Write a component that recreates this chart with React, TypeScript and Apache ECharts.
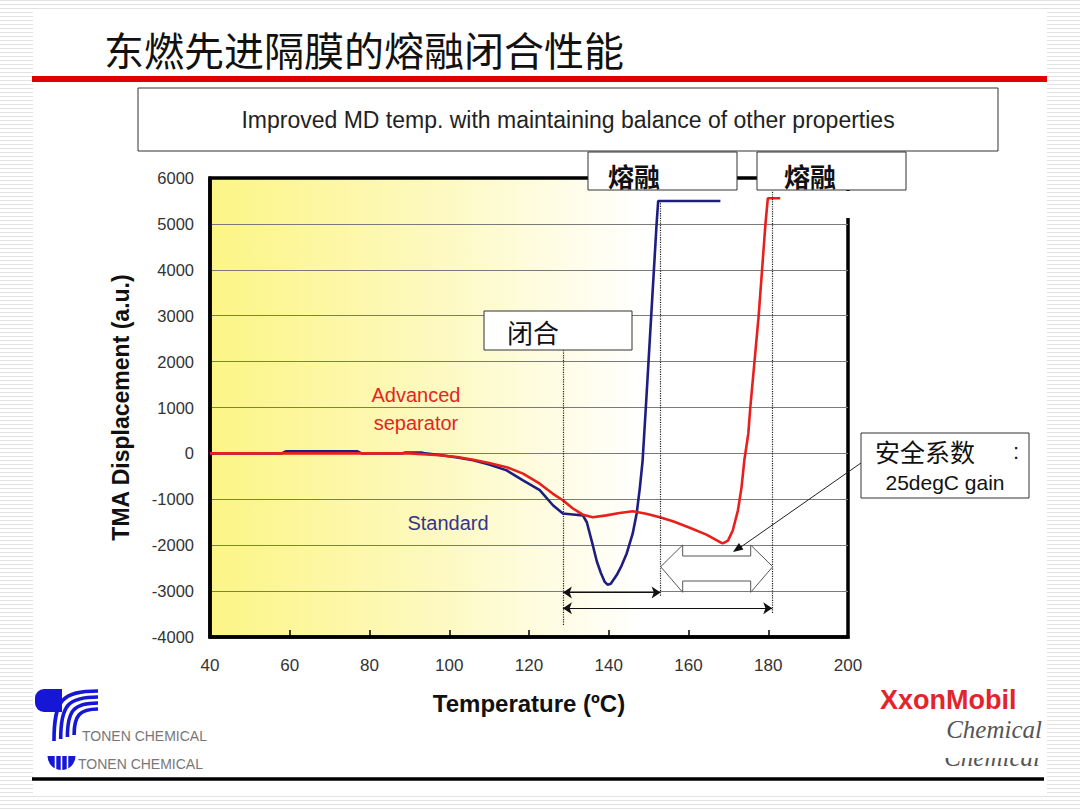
import * as React from "react";
import * as echarts from "echarts";
import { useEffect, useRef } from "react";

// Standard separator (blue curve)
const blueTemp = [40, 58, 59, 77, 78, 88, 89, 93, 94, 98, 102, 106, 110, 114.4, 118.5, 122.7, 126, 128.5, 131, 133.5, 134.5, 136, 137, 138, 139, 139.7, 140.5, 142, 143.2, 144.5, 146, 147, 147.8, 148.5, 149.3, 150.65, 152, 152.4, 160, 168];
const blueDisp = [0, 0, 45, 45, 0, 0, 20, 20, 0, -40, -90, -150, -240, -370, -590, -800, -1130, -1310, -1330, -1350, -1500, -2000, -2350, -2600, -2800, -2860, -2840, -2650, -2450, -2180, -1750, -1310, -750, -150, 1000, 3000, 5000, 5500, 5500, 5500];

// Advanced separator (red curve)
const redTemp = [40, 90, 97.6, 102, 106, 110, 114.4, 118.5, 122.7, 126, 128.5, 131, 133.5, 136, 139.4, 142.7, 146, 149.4, 152.8, 156.1, 160.3, 164.5, 167.8, 168.6, 169.9, 171.1, 172.4, 173.3, 174, 175, 175.5, 177.6, 179.3, 179.9, 183];
const redDisp = [0, 0, -40, -80, -140, -210, -300, -440, -660, -880, -1020, -1200, -1335, -1390, -1350, -1300, -1260, -1315, -1390, -1480, -1620, -1770, -1930, -1960, -1900, -1680, -1240, -740, -150, 430, 1000, 3000, 5000, 5560, 5560];

// dotted guide lines: temperature, top, bottom
const guideTemp = [128.5, 153, 181];
const guideTop = [2250, 5500, 5700];
const guideBottom = [-3740, -3100, -3480];

// span arrows: start temp, end temp, level
const spanStart = [128.5, 128.5];
const spanEnd = [153, 181];
const spanLevel = [-3030, -3375];

const zip = (xs: number[], ys: number[]) => xs.map((x, i) => [x, ys[i]]);

const SANS = "'Liberation Sans', Arial, sans-serif";
const CJK = "'Noto Sans CJK SC', sans-serif";
const SERIF = "'Liberation Serif', serif";
const BLUE_LOGO = "#1616d6";

const txt = (x: number, y: number, text: string, s: any = {}) => ({
  type: "text",
  x,
  y,
  z: 110,
  silent: true,
  style: {
    text,
    fontSize: 20,
    fontFamily: SANS,
    fill: "#111",
    align: s.align || "left",
    textAlign: s.align || "left",
    verticalAlign: "middle",
    textVerticalAlign: "middle",
    ...s,
  },
});

const box = (x: number, y: number, w: number, h: number) => ({
  type: "rect",
  z: 100,
  silent: true,
  shape: { x, y, width: w, height: h },
  style: { fill: "#fff", stroke: "#333", lineWidth: 1 },
});

const App = () => {
  const chartRef = useRef<HTMLDivElement>(null);

  useEffect(() => {
    if (!chartRef.current) return;
    const chart = echarts.init(chartRef.current, null, { renderer: "svg" });

    const stripes = [0, 1, 2, 3].map((i) => ({
      type: "bezierCurve",
      z: 100,
      silent: true,
      shape: {
        x1: 98, y1: 691 + 6 * i,
        cpx1: 62 + 6 * i, cpy1: 691 + 6 * i,
        cpx2: 54 + 6.7 * i, cpy2: 700 + 5 * i,
        x2: 54 + 6.7 * i, y2: 741 - 2 * i,
      },
      style: { stroke: BLUE_LOGO, lineWidth: 3.6, fill: null },
    }));

    const bigArrow = [
      [660.7, 566.7], [682.7, 545], [682.7, 556], [750.7, 556], [750.7, 545],
      [772.7, 566.7], [750.7, 592.3], [750.7, 581], [682.7, 581], [682.7, 592.3],
    ];

    const option = {
      animation: false,
      grid: {
        left: 210,
        right: 232,
        top: 178,
        bottom: 173,
        show: true,
        borderColor: "#000",
        borderWidth: 3.5,
        backgroundColor: new echarts.graphic.LinearGradient(0, 0, 1, 0, [
          { offset: 0, color: "#fcf585" },
          { offset: 0.35, color: "#fdf9bf" },
          { offset: 0.68, color: "#ffffff" },
          { offset: 1, color: "#ffffff" },
        ]),
      },
      xAxis: {
        type: "value",
        min: 40,
        max: 200,
        interval: 20,
        name: "Temperature (ºC)",
        nameLocation: "middle",
        nameGap: 54,
        nameTextStyle: { fontSize: 24, fontWeight: "bold", color: "#111", fontFamily: SANS },
        axisLine: { show: true, onZero: false, lineStyle: { color: "#000", width: 3.5 } },
        axisTick: { show: true, inside: true, length: 7, lineStyle: { color: "#000", width: 1.5 } },
        axisLabel: { margin: 20, fontSize: 17, color: "#333", fontFamily: SANS },
        splitLine: { show: false },
        z: 5,
      },
      yAxis: {
        type: "value",
        min: -4000,
        max: 6000,
        interval: 1000,
        name: "TMA Displacement (a.u.)",
        nameLocation: "middle",
        nameGap: 78,
        nameTextStyle: { fontSize: 23, fontWeight: "bold", color: "#111", fontFamily: SANS },
        axisLine: { show: true, onZero: false, lineStyle: { color: "#000", width: 3.5 } },
        axisTick: { show: false },
        axisLabel: {
          margin: 16,
          fontSize: 16.5,
          color: "#333",
          fontFamily: SANS,
          formatter: (v: number) => String(v),
        },
        splitLine: {
          show: true,
          showMinLine: false,
          showMaxLine: false,
          lineStyle: { color: "#7a7a7a", width: 1 },
        },
      },
      series: [
        {
          name: "Standard",
          type: "line",
          data: zip(blueTemp, blueDisp),
          showSymbol: false,
          symbol: "none",
          lineStyle: { color: "#1e1e82", width: 2.6 },
          z: 3,
          markLine: {
            silent: true,
            symbol: ["arrow", "arrow"],
            symbolSize: 9,
            label: { show: false },
            lineStyle: { color: "#111", width: 1.2, type: "solid" },
            data: spanStart.map((s, i) => [
              { coord: [s, spanLevel[i]] },
              { coord: [spanEnd[i], spanLevel[i]] },
            ]),
          },
        },
        {
          name: "Advanced separator",
          type: "line",
          data: zip(redTemp, redDisp),
          showSymbol: false,
          symbol: "none",
          lineStyle: { color: "#e8201c", width: 2.6 },
          z: 4,
          markLine: {
            silent: true,
            symbol: ["none", "none"],
            label: { show: false },
            lineStyle: { color: "#222", width: 1.2, type: "dotted" },
            data: guideTemp.map((t, i) => [
              { coord: [t, guideTop[i]] },
              { coord: [t, guideBottom[i]] },
            ]),
          },
        },
      ],
      graphic: [
        // title and rules
        txt(104, 49, "东燃先进隔膜的熔融闭合性能", { fontSize: 40, fontFamily: CJK, fill: "#111" }),
        { type: "rect", z: 100, silent: true, shape: { x: 32, y: 76, width: 1015, height: 6 }, style: { fill: "#e00000" } },
        { type: "line", z: 100, silent: true, shape: { x1: 32, y1: 779, x2: 1044, y2: 779 }, style: { stroke: "#000", lineWidth: 3.5 } },

        // headline box
        box(138, 88, 860, 63),
        txt(568, 120, "Improved MD temp. with maintaining balance of other properties", { fontSize: 23, align: "center", fill: "#222" }),

        // cover of the upper right frame corner
        { type: "rect", z: 100, silent: true, shape: { x: 783, y: 191, width: 70, height: 27 }, style: { fill: "#fff" } },

        // meltdown boxes
        box(588, 152, 149, 38),
        txt(608, 175, "熔融", { fontSize: 26, fontFamily: CJK, fontWeight: "bold" }),
        box(757, 152, 149, 38),
        txt(784, 175, "熔融", { fontSize: 26, fontFamily: CJK, fontWeight: "bold" }),

        // shutdown box
        box(484, 311, 148, 39),
        txt(507, 331, "闭合", { fontSize: 26, fontFamily: CJK }),

        // safety factor box
        box(861, 433, 168, 65),
        txt(875, 451, "安全系数", { fontSize: 25, fontFamily: CJK }),
        txt(1013, 451, ":", { fontSize: 22 }),
        txt(945, 482, "25degC gain", { fontSize: 21, align: "center" }),

        // callout arrow
        { type: "line", z: 100, silent: true, shape: { x1: 861, y1: 463, x2: 738, y2: 549 }, style: { stroke: "#222", lineWidth: 1 } },
        { type: "polygon", z: 100, silent: true, shape: { points: [[733, 552], [743.5, 549.6], [738.9, 543]] }, style: { fill: "#111" } },

        // hollow double arrow
        { type: "polygon", z: 100, silent: true, shape: { points: bigArrow }, style: { fill: "#fff", stroke: "#555", lineWidth: 1 } },

        // curve labels
        txt(416, 395, "Advanced", { fontSize: 20, align: "center", fill: "#e4261f" }),
        txt(416, 423, "separator", { fontSize: 20, align: "center", fill: "#e4261f" }),
        txt(448, 523, "Standard", { fontSize: 20, align: "center", fill: "#35358c" }),

        // Tonen logo
        { type: "rect", z: 100, silent: true, shape: { x: 35, y: 689, width: 27, height: 23, r: [9, 0, 0, 9] }, style: { fill: BLUE_LOGO } },
        ...stripes,
        txt(82, 736, "TONEN CHEMICAL", { fontSize: 14, fill: "#777" }),
        {
          type: "sector", z: 100, silent: true,
          shape: { cx: 61.5, cy: 756, r0: 0, r: 14, startAngle: 0, endAngle: Math.PI, clockwise: true },
          style: { fill: BLUE_LOGO },
        },
        ...[55.5, 61.5, 67.5].map((x) => ({
          type: "line", z: 101, silent: true,
          shape: { x1: x, y1: 756, x2: x, y2: 771 },
          style: { stroke: "#fff", lineWidth: 1.6 },
        })),
        txt(78, 764, "TONEN CHEMICAL", { fontSize: 14, fill: "#777" }),

        // ExxonMobil logo
        txt(880, 700, "XxonMobil", { fontSize: 27, fontWeight: "bold", fill: "#e3242b" }),
        txt(1042, 729, "Chemical", { fontSize: 25, fontStyle: "italic", fontFamily: SERIF, fill: "#555", align: "right" }),
        txt(1040, 757, "Chemical", { fontSize: 25, fontStyle: "italic", fontFamily: SERIF, fill: "#555", align: "right" }),
        { type: "rect", z: 120, silent: true, shape: { x: 930, y: 743, width: 115, height: 15 }, style: { fill: "#fff" } },
      ],
    };

    chart.setOption(option as any);

    return () => {
      chart.dispose();
    };
  }, []);

  return (
    <div
      style={{
        position: "fixed",
        left: 0,
        top: 0,
        width: 1080,
        height: 810,
        background:
          "repeating-linear-gradient(to bottom, #e2e2e2 0px, #e2e2e2 1px, #ffffff 1px, #ffffff 4px)",
      }}
    >
      <div style={{ position: "absolute", left: 33, top: 12, width: 1014, height: 783, background: "#fff" }} />
      <div ref={chartRef} style={{ position: "absolute", left: 0, top: 0, width: 1080, height: 810 }} />
    </div>
  );
};

export default App;
